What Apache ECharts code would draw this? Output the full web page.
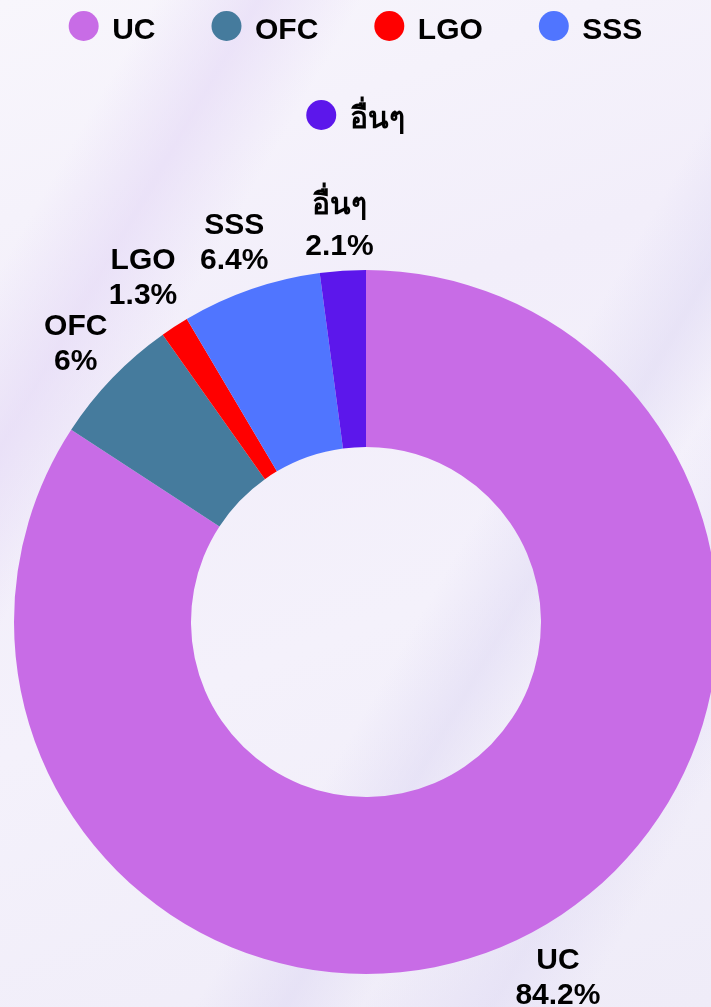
<!DOCTYPE html>
<html>
<head>
<meta charset="utf-8">
<script src="https://cdn.jsdelivr.net/npm/echarts@6/dist/echarts.min.js"></script>
<style>
  html, body { margin: 0; padding: 0; width: 711px; height: 1007px; overflow: hidden; }
  body {
    background:
      linear-gradient(120deg, rgba(255,255,255,0) 0%, rgba(255,255,255,0) 60%, rgba(218,212,242,0.45) 67%, rgba(255,255,255,0) 73%, rgba(218,212,242,0.4) 83%, rgba(255,255,255,0) 90%),
      linear-gradient(300deg, rgba(255,255,255,0) 72%, rgba(228,216,246,0.6) 80%, rgba(255,255,255,0) 88%),
      linear-gradient(160deg, #f8f6fc 0%, #f2eefa 35%, #f4f1fb 60%, #efecf8 100%);
  }
  #chart { width: 711px; height: 1007px; }
</style>
</head>
<body>
<div id="chart"></div>
<script>
const categories = ['UC', 'OFC', 'LGO', 'SSS', 'อื่นๆ'];
const values = [84.2, 6, 1.3, 6.4, 2.1];
const colors = ['#c86ce6', '#457b9d', '#ff0000', '#5075ff', '#5c17eb'];
const legendRow1 = categories.slice(0, 4);
const legendRow2 = categories.slice(4);

const FONT = '"Liberation Sans", Arial, "Noto Sans", sans-serif';
const chart = echarts.init(document.getElementById('chart'), null, { renderer: 'canvas' });

const legendBase = {
  left: 'center',
  padding: 0,
  itemWidth: 47,
  itemHeight: 30,
  itemGap: 56,
  icon: 'circle',
  formatter: '{t|{name}}',
  textStyle: {
    fontFamily: FONT, fontWeight: 'bold', fontSize: 30, color: '#000', lineHeight: 30,
    rich: { t: { fontFamily: FONT, fontWeight: 'bold', fontSize: 30, color: '#000', lineHeight: 30, padding: [10, 0, 0, 0] } }
  }
};

// small per-label nudges (radial extra distance, vertical offset)
const labelRadialExtra = [0, 0, 7, 0, 0];
const labelDy = [2, 2, 0, 2, 6];

chart.setOption({
  backgroundColor: 'transparent',
  color: colors,
  legend: [
    Object.assign({}, legendBase, { top: 6, data: legendRow1 }),
    Object.assign({}, legendBase, { top: 95, data: legendRow2 })
  ],
  series: [{
    type: 'pie',
    center: [366, 622],
    radius: [175, 352],
    startAngle: 90,
    clockwise: true,
    avoidLabelOverlap: false,
    animation: false,
    itemStyle: { borderWidth: 0 },
    label: {
      show: true,
      position: 'outside',
      formatter: '{b}\n{c}%',
      fontFamily: FONT,
      fontWeight: 'bold',
      fontSize: 30,
      lineHeight: 35,
      color: '#000',
      align: 'center'
    },
    labelLine: { show: true, length: 51, length2: 0, lineStyle: { opacity: 0 } },
    labelLayout: function (params) {
      const pts = params.labelLinePoints;
      if (!pts) return {};
      const i = params.dataIndex;
      const vx = pts[1][0] - pts[0][0], vy = pts[1][1] - pts[0][1];
      const len = Math.sqrt(vx * vx + vy * vy) || 1;
      const e = labelRadialExtra[i];
      return {
        x: pts[1][0] + vx / len * e,
        y: pts[1][1] + vy / len * e + labelDy[i],
        align: 'center',
        verticalAlign: 'middle'
      };
    },
    emphasis: { disabled: true },
    data: categories.map((c, i) => {
      const item = { name: c, value: values[i] };
      if (i === 4) item.label = { lineHeight: 41 };
      return item;
    })
  }]
});
</script>
</body>
</html>
